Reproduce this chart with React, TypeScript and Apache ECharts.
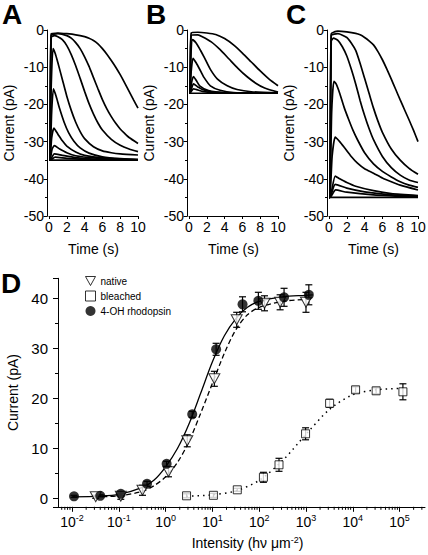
import React, { useEffect, useRef } from "react";
import * as echarts from "echarts";

const FONT = "'Liberation Sans', Arial, Helvetica, sans-serif";

// ---------- Panel A traces: [time (s), current (pA)] ----------
const traceA1 = [[0,-35],[0.1,-35],[0.25,-1],[1,-0.8],[2,-1],[3,-1.3],[4,-1.8],[4.5,-2.2],[5,-2.8],[5.5,-3.7],[6,-5],[6.5,-6.5],[7,-8.2],[7.5,-10],[8,-12],[8.5,-14.2],[9,-16.5],[9.5,-18.8],[10,-21]];
const traceA2 = [[0,-35],[0.1,-35],[0.25,-1.5],[1,-1],[2,-1.5],[2.5,-2.2],[3,-3.4],[3.5,-5],[4,-7.2],[4.5,-9.8],[5,-12.8],[5.5,-15.8],[6,-18.7],[6.5,-21.2],[7,-23.3],[7.5,-25.1],[8,-26.6],[8.5,-27.8],[9,-28.9],[10,-30.5]];
const traceA3 = [[0,-35],[0.1,-35],[0.25,-2],[0.6,-1.5],[1,-1.8],[1.5,-2.6],[2,-4.2],[2.5,-6.6],[3,-9.6],[3.5,-13],[4,-16.5],[4.5,-19.8],[5,-22.6],[5.5,-25],[6,-26.9],[7,-29.4],[8,-31],[9,-32],[10,-32.7]];
const traceA4 = [[0,-35],[0.1,-35],[0.25,-15],[0.45,-5],[0.7,-6.3],[1,-8.8],[1.5,-13.3],[2,-17.8],[2.5,-21.6],[3,-24.8],[3.5,-27.3],[4,-29.2],[5,-31.4],[6,-32.5],[7,-33],[8,-33.3],[10,-33.6]];
const traceA5 = [[0,-35],[0.1,-35],[0.3,-22],[0.5,-15.8],[0.8,-17.8],[1.2,-21.2],[1.7,-24.8],[2.2,-27.6],[2.8,-29.9],[3.5,-31.7],[4.5,-33.1],[6,-34.1],[8,-34.6],[10,-34.8]];
const traceA6 = [[0,-35],[0.1,-35],[0.3,-29],[0.55,-26.4],[1,-28],[1.5,-29.8],[2,-31.2],[3,-32.8],[4,-33.7],[6,-34.4],[10,-34.9]];
const traceA7 = [[0,-35],[0.1,-35],[0.35,-32],[0.6,-31.1],[1.2,-32],[2,-33],[3,-33.8],[5,-34.4],[8,-34.8],[10,-35]];
const traceA8 = [[0,-35],[0.1,-35],[0.6,-33.3],[1.5,-33.7],[3,-34.3],[5,-34.7],[10,-35]];
const traceA9 = [[0,-35],[0.1,-35],[0.7,-34.2],[2,-34.5],[5,-34.9],[10,-35]];
const traceA10 = [[0,-35],[10,-35]];

// ---------- Panel B traces ----------
const traceB1 = [[0,-17],[0.1,-17],[0.25,-0.8],[1,-0.6],[2,-0.8],[3,-1.2],[4,-2.3],[5,-4],[6,-6.2],[7,-8.6],[8,-11],[9,-13.2],[10,-15]];
const traceB2 = [[0,-17],[0.1,-17],[0.25,-1.5],[1,-1.3],[1.5,-1.8],[2.5,-3.2],[3.5,-5.3],[4.5,-7.8],[5.5,-10.3],[6.5,-12.5],[7.5,-14.3],[8.5,-15.6],[10,-16.7]];
const traceB3 = [[0,-17],[0.1,-17],[0.25,-5],[0.4,-2.6],[0.8,-3.5],[1.3,-5.5],[1.7,-7.3],[2.4,-10.6],[3.2,-13.2],[4.3,-15],[5.4,-16],[7,-16.6],[10,-16.9]];
const traceB4 = [[0,-17],[0.1,-17],[0.25,-11],[0.45,-7.6],[0.8,-8.8],[1.3,-11],[1.7,-12.8],[2.4,-15],[3.5,-16.2],[5,-16.8],[10,-17]];
const traceB5 = [[0,-17],[0.1,-17],[0.3,-14],[0.5,-12.5],[0.8,-13.5],[1.2,-15],[2.2,-16.3],[4,-16.8],[10,-17]];
const traceB6 = [[0,-17],[0.1,-17],[0.5,-14.5],[1,-15.3],[1.5,-16],[3,-16.8],[10,-17]];
const traceB7 = [[0,-17],[0.1,-17],[0.5,-15.8],[1.5,-16.5],[3,-16.9],[10,-17]];
const traceB8 = [[0,-17],[10,-17]];

// ---------- Panel C traces ----------
const traceC1 = [[0,-45],[0.1,-45],[0.25,-1],[0.6,-0.5],[1,-0.3],[2,-0.5],[3,-0.9],[3.5,-1.3],[4,-2],[4.5,-2.9],[5,-4],[5.5,-5.8],[6,-8],[6.5,-10.5],[7,-13.2],[7.5,-16],[8,-18.8],[8.5,-21.5],[9,-24.2],[9.5,-27],[10,-30]];
const traceC2 = [[0,-45],[0.1,-45],[0.25,-1.5],[1,-1],[2,-2],[2.5,-3.5],[3,-5.5],[3.5,-9],[4,-13],[4.5,-17],[5,-21],[5.5,-24.5],[6,-27.5],[7,-32],[8,-35],[9,-37.2],[10,-38.8]];
const traceC3 = [[0,-45],[0.1,-45],[0.25,-3],[0.5,-2.2],[1,-2.8],[1.5,-4.5],[2,-7],[2.5,-10.5],[3,-14.5],[3.5,-19],[4,-23],[4.5,-26.5],[5,-29.5],[6,-34],[7,-37],[8,-39],[9,-40.3],[10,-41]];
const traceC4 = [[0,-45],[0.1,-45],[0.3,-22],[0.55,-13.8],[0.8,-14.5],[1.2,-17],[1.7,-20.8],[2.2,-24],[2.7,-27],[3.2,-29.5],[4,-33],[5,-36],[6,-38],[7,-39.5],[8,-40.8],[9,-41.7],[10,-42.3]];
const traceC5 = [[0,-45],[0.1,-45],[0.35,-34],[0.7,-28.8],[1.2,-30],[1.7,-31.5],[2.5,-34],[3.2,-35.8],[4,-37.3],[5,-38.5],[6,-39.8],[7,-40.8],[8,-41.7],[10,-43]];
const traceC6 = [[0,-45],[0.1,-45],[0.7,-39.3],[1.2,-40],[2,-41],[3,-42],[5,-43.2],[7,-44],[10,-44.5]];
const traceC7 = [[0,-45],[0.1,-45],[0.7,-41.5],[2,-42.5],[4,-43.5],[7,-44.3],[10,-44.7]];
const traceC8 = [[0,-45],[0.1,-45],[0.75,-43],[2,-43.6],[5,-44.3],[10,-44.9]];
const traceC9 = [[0,-45],[10,-45]];

const tracesA = [traceA1, traceA2, traceA3, traceA4, traceA5, traceA6, traceA7, traceA8, traceA9, traceA10];
const tracesB = [traceB1, traceB2, traceB3, traceB4, traceB5, traceB6, traceB7, traceB8];
const tracesC = [traceC1, traceC2, traceC3, traceC4, traceC5, traceC6, traceC7, traceC8, traceC9];

const timeTicks = [0, 2, 4, 6, 8, 10];
const currentTicks = [-50, -40, -30, -20, -10, 0];

// ---------- Panel D: intensity-response ----------
const nativeI = [0.032, 0.11, 0.32, 1.15, 2.9, 11, 33, 130, 280, 1000];
const nativeC = [0.3, 0.4, 1.6, 5.3, 11.5, 23.9, 35.7, 39.0, 39.2, 39.2];
const nativeErr = [0.3, 0.6, 1.0, 1.0, 1.2, 1.5, 1.5, 1.5, 1.5, 2.0];

const bleachedI = [2.8, 10.5, 34, 123, 265, 980, 3200, 11500, 31600, 118000];
const bleachedC = [0.5, 0.6, 1.7, 4.2, 6.7, 12.9, 19.0, 21.7, 21.5, 21.3];
const bleachedErr = [0.4, 0.4, 0.3, 1.0, 1.3, 1.2, 0.8, 0.6, 0.6, 1.6];

const ohI = [0.011, 0.04, 0.11, 0.4, 1.05, 3.7, 12, 44, 96, 340, 1150];
const ohC = [0.4, 0.5, 0.9, 2.9, 6.9, 16.8, 29.8, 38.8, 39.5, 40.2, 40.7];
const ohErr = [0.2, 0.2, 0.4, 0.5, 0.5, 0.6, 1.2, 1.5, 1.7, 1.8, 2.0];

// fitted curves
const fitOhI = [0.01, 0.04, 0.1, 0.32, 0.56, 1, 1.8, 3.2, 5.6, 10, 18, 32, 56, 100, 320, 1000, 1400];
const fitOhC = [0.3, 0.45, 0.8, 2.2, 3.6, 6.3, 10, 15, 21, 27.3, 32.5, 36, 38.2, 39.4, 40.3, 40.6, 40.7];
const fitNativeI = [0.03, 0.1, 0.32, 0.56, 1, 1.8, 3.2, 5.6, 10, 18, 32, 56, 100, 320, 1000, 1400];
const fitNativeC = [0.3, 0.5, 1.4, 2.5, 4.3, 7.2, 11.5, 17, 23, 29, 33.8, 36.7, 38.2, 39.4, 39.8, 39.9];
const fitBleachedI = [2.8, 10, 32, 100, 320, 1000, 3200, 10000, 32000, 120000];
const fitBleachedC = [0.4, 0.7, 1.5, 3.6, 7.6, 12.8, 17.8, 20.7, 21.7, 22.0];

const intensityDecades = [-3, -2, -1, 0, 1, 2, 3, 4, 5];
const minorMultipliers = [2, 3, 4, 5, 6, 7, 8, 9];

const D_XMIN = 0.005;
const D_XMAX = 350000;
const D_YMIN = -1.7;
const D_YMAX = 44;

const TRI_DOWN = "path://M0,0L10,0L5,9Z";

function zip(xs: number[], ys: number[]) {
  return xs.map((x, i) => [x, ys[i]]);
}

function errorData(xs: number[], ys: number[], es: number[]) {
  return xs.map((x, i) => [x, ys[i] - es[i], ys[i] + es[i]]);
}

function renderError(params: any, api: any) {
  const x = api.value(0);
  const top = api.coord([x, api.value(2)]);
  const bot = api.coord([x, api.value(1)]);
  const w = 3.5;
  const style = { stroke: "#000", lineWidth: 1.2 };
  return {
    type: "group",
    children: [
      { type: "line", shape: { x1: top[0], y1: top[1], x2: bot[0], y2: bot[1] }, style },
      { type: "line", shape: { x1: top[0] - w, y1: top[1], x2: top[0] + w, y2: top[1] }, style },
      { type: "line", shape: { x1: bot[0] - w, y1: bot[1], x2: bot[0] + w, y2: bot[1] }, style },
    ],
  };
}

function renderMinorTick(params: any, api: any) {
  const p = api.coord([api.value(0), api.value(1)]);
  return {
    type: "line",
    shape: { x1: p[0], y1: p[1], x2: p[0], y2: p[1] + 3 },
    style: { stroke: "#000", lineWidth: 1 },
  };
}

export default function App() {
  const ref = useRef<HTMLDivElement>(null);

  useEffect(() => {
    document.body.style.margin = "0";
    if (!ref.current) return;
    const chart = echarts.init(ref.current, null, { renderer: "svg" });

    const panelLeft = [49, 189, 329];
    const grids: any[] = panelLeft.map((l) => ({
      left: l, top: 30, width: 89, height: 186, containLabel: false, outerBoundsMode: "none",
    }));
    grids.push({ left: 58, top: 278.3, width: 367, height: 228.5, containLabel: false, outerBoundsMode: "none" });

    const axisLine = { show: true, onZero: false, lineStyle: { color: "#000", width: 1 } };
    const labelStyle = { color: "#000", fontFamily: FONT, fontSize: 14, fontWeight: "normal" as const };

    const xAxes: any[] = [0, 1, 2].map((i) => ({
      type: "value", gridIndex: i, min: timeTicks[0], max: timeTicks[timeTicks.length - 1], interval: 2,
      name: "Time (s)", nameLocation: "middle", nameGap: 26,
      nameTextStyle: { ...labelStyle },
      axisLine, axisTick: { show: true, length: 3, lineStyle: { color: "#000" } },
      axisLabel: { ...labelStyle, margin: 4 },
      splitLine: { show: false },
    }));
    const yAxes: any[] = [0, 1, 2].map((i) => ({
      type: "value", gridIndex: i, min: currentTicks[0], max: currentTicks[currentTicks.length - 1], interval: 10,
      offset: 1.5,
      name: "Current (pA)", nameLocation: "middle", nameGap: 32,
      nameTextStyle: { ...labelStyle },
      axisLine, axisTick: { show: true, length: 4, lineStyle: { color: "#000" } },
      minorTick: { show: true, splitNumber: 2, length: 2.5, lineStyle: { color: "#000" } },
      axisLabel: { ...labelStyle, margin: 3.5 },
      splitLine: { show: false },
    }));

    xAxes.push({
      type: "log", logBase: 10, gridIndex: 3, min: D_XMIN, max: D_XMAX,
      name: "{a|Intensity (hν μm}{s|-2}{a|)}", nameLocation: "middle", nameGap: 29,
      nameTextStyle: {
        rich: {
          a: { ...labelStyle },
          s: { color: "#000", fontFamily: FONT, fontSize: 9, padding: [0, 0, 6, 0] },
        },
        padding: [0, 0, 0, 12],
      },
      axisLine, axisTick: { show: true, length: 5, lineStyle: { color: "#000" } },
      axisLabel: {
        showMinLabel: false, showMaxLabel: false, margin: 7,
        formatter: (v: number) => `{b|10}{s|${Math.round(Math.log10(v))}}`,
        rich: {
          b: { ...labelStyle },
          s: { color: "#000", fontFamily: FONT, fontSize: 9, padding: [0, 0, 7, 0] },
        },
      },
      splitLine: { show: false },
    });
    yAxes.push({
      type: "value", gridIndex: 3, min: D_YMIN, max: D_YMAX,
      name: "Current (pA)", nameLocation: "middle", nameGap: 36,
      nameTextStyle: { ...labelStyle },
      axisLine, axisTick: { show: true, length: 5, lineStyle: { color: "#000" } },
      minorTick: { show: true, splitNumber: 2, length: 3, lineStyle: { color: "#000" } },
      axisLabel: { ...labelStyle, fontSize: 15, margin: 10, showMinLabel: false, showMaxLabel: false },
      splitLine: { show: false },
    });

    const traceSeries = (traces: number[][][], idx: number) =>
      traces.map((d) => ({
        type: "line", xAxisIndex: idx, yAxisIndex: idx, data: d,
        symbol: "none", showSymbol: false, smooth: 0.2, silent: true,
        lineStyle: { color: "#000", width: 1.7 },
      }));

    const minorTicks: number[][] = [];
    intensityDecades.forEach((n) =>
      minorMultipliers.forEach((k) => {
        const v = k * Math.pow(10, n);
        if (v > D_XMIN && v < D_XMAX) minorTicks.push([v, D_YMIN]);
      })
    );

    const fitLine = (xs: number[], ys: number[], type: any, width: number) => ({
      type: "line", xAxisIndex: 3, yAxisIndex: 3, data: zip(xs, ys), symbol: "none",
      smooth: 0.3, silent: true, z: 2,
      lineStyle: { color: "#000", width, type },
    });
    const errSeries = (xs: number[], ys: number[], es: number[]) => ({
      type: "custom", xAxisIndex: 3, yAxisIndex: 3, data: errorData(xs, ys, es),
      renderItem: renderError, encode: { x: 0, y: [1, 2] }, silent: true, z: 3, clip: false,
    });

    const option: any = {
      animation: false,
      backgroundColor: "#fff",
      textStyle: { fontFamily: FONT },
      grid: grids,
      xAxis: xAxes,
      yAxis: yAxes,
      legend: {
        orient: "vertical", left: 80, top: 271, itemWidth: 10, itemHeight: 10, itemGap: 4.5,
        textStyle: { color: "#000", fontFamily: FONT, fontSize: 10 },
        selectedMode: false,
        data: [
          { name: "native", icon: TRI_DOWN, itemStyle: { color: "#fff", borderColor: "#000", borderWidth: 1 } },
          { name: "bleached", icon: "rect", itemStyle: { color: "#fff", borderColor: "#000", borderWidth: 1 } },
          { name: "4-OH rhodopsin", icon: "circle", itemStyle: { color: "#000", borderColor: "#000", borderWidth: 0 } },
        ],
      },
      graphic: [
        { type: "text", left: 2, top: 0, style: { text: "A", font: `bold 28px ${FONT}`, fill: "#000" } },
        { type: "text", left: 146, top: 0, style: { text: "B", font: `bold 28px ${FONT}`, fill: "#000" } },
        { type: "text", left: 286, top: 0, style: { text: "C", font: `bold 28px ${FONT}`, fill: "#000" } },
        { type: "text", left: 1, top: 269, style: { text: "D", font: `bold 28px ${FONT}`, fill: "#000" } },
      ],
      series: [
        ...traceSeries(tracesA, 0),
        ...traceSeries(tracesB, 1),
        ...traceSeries(tracesC, 2),
        {
          type: "custom", xAxisIndex: 3, yAxisIndex: 3, data: minorTicks, renderItem: renderMinorTick,
          encode: { x: 0, y: 1 }, silent: true, clip: false, z: 1,
        },
        fitLine(fitOhI, fitOhC, "solid", 1.3),
        fitLine(fitNativeI, fitNativeC, [5, 3], 1.3),
        fitLine(fitBleachedI, fitBleachedC, [1.5, 4], 1.5),
        errSeries(nativeI, nativeC, nativeErr),
        errSeries(bleachedI, bleachedC, bleachedErr),
        errSeries(ohI, ohC, ohErr),
        {
          name: "native", type: "scatter", xAxisIndex: 3, yAxisIndex: 3, data: zip(nativeI, nativeC),
          symbol: TRI_DOWN, symbolSize: [11, 10], z: 4, silent: true,
          itemStyle: { color: "#fff", borderColor: "#000", borderWidth: 1 },
        },
        {
          name: "bleached", type: "scatter", xAxisIndex: 3, yAxisIndex: 3, data: zip(bleachedI, bleachedC),
          symbol: "rect", symbolSize: 8, z: 4, silent: true,
          itemStyle: { color: "#fff", borderColor: "#000", borderWidth: 1 },
        },
        {
          name: "4-OH rhodopsin", type: "scatter", xAxisIndex: 3, yAxisIndex: 3, data: zip(ohI, ohC),
          symbol: "circle", symbolSize: 10, z: 5, silent: true,
          itemStyle: { color: "#000" },
        },
      ],
    };

    chart.setOption(option);
    return () => chart.dispose();
  }, []);

  return <div ref={ref} style={{ width: 428, height: 555 }} />;
}
